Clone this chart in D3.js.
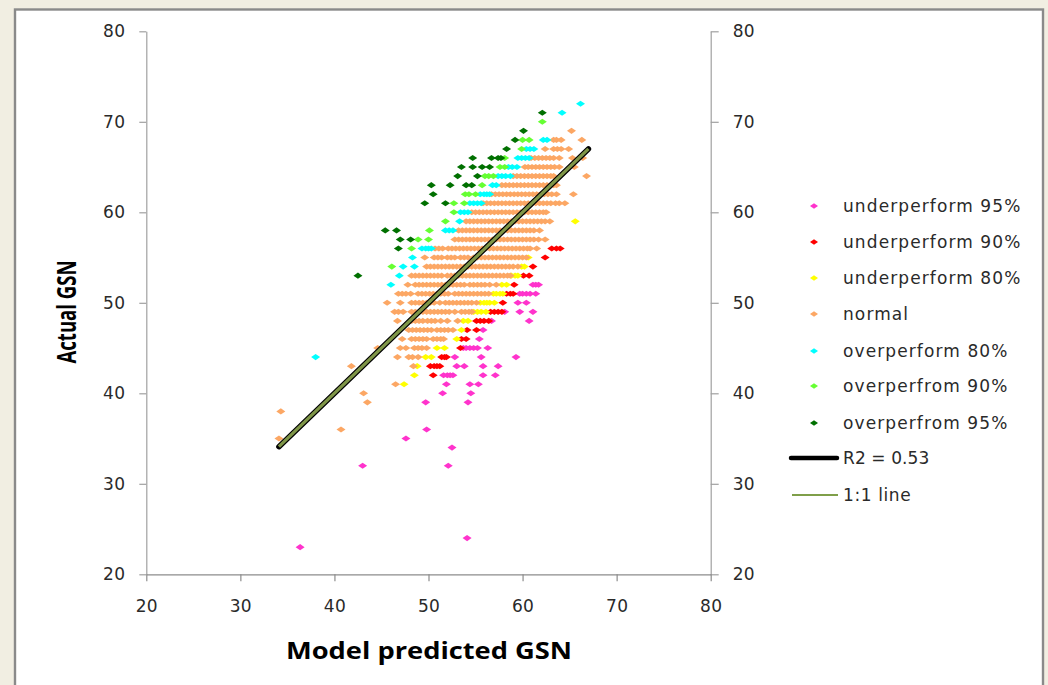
<!DOCTYPE html>
<html><head><meta charset="utf-8"><style>html,body{margin:0;padding:0;background:#f1eee2;overflow:hidden}svg{display:block}</style>
<script src="https://cdnjs.cloudflare.com/ajax/libs/d3/7.8.5/d3.min.js"></script></head><body><svg id="c" width="1048" height="685"></svg>
<script>
const xTicks=[20,30,40,50,60,70,80];
const yTicks=[20,30,40,50,60,70,80];
const legendLabels=["underperform 95%","underperform 90%","underperform 80%","normal","overperform 80%","overperfrom 90%","overperfrom 95%"];
const colors=["#ff33cc","#ff0000","#ffff00","#fca764","#00ffff","#66ff33","#007000"];
// each entry: [actual GSN, [model predicted GSN, ...]]
const under95=[[52,[61.1,61.4,61.7]],[51,[59.7,60,60.4,60.8,61.4]],[50,[59.5,60.4]],[49,[58.1,59.7,61.1]],[48,[56.7,60.7]],[47,[55.8]],[46,[55.4]],[45,[53.7,54,54.4,54.8,55.2,56.3]],[44,[52.8,55.6,59.3]],[43,[53,53.8,55.8,57.4]],[42,[51.6,52,52.3,52.6,55.8,57.1]],[41,[51.9,54.4,55.3]],[40,[51.5,54.5]],[39,[49.7,54.2]],[36,[49.8]],[35,[47.6]],[34,[52.5]],[32,[43,52.1]],[24,[54.1]],[23,[36.35]]];
const under90=[[56,[63.1,63.6,64]],[55,[62.4]],[54,[61.1]],[53,[60.1,60.7]],[52,[59.1]],[51,[58.3,58.7,59]],[50,[57.9]],[49,[56.6,57,57.4,57.8]],[48,[55.1,55.5,55.9,56.4]],[47,[54.1,55.1]],[46,[53.5,54]],[45,[53.4]],[44,[51.4,51.7,51.9]],[43,[50.2,50.6,50.9,51.2]],[42,[50.5]]];
const under80=[[59,[65.6]],[55,[60.6]],[54,[59.9,60.2]],[53,[58.8,59.2,59.5]],[52,[57.8,58.3]],[51,[56.9,57.2,57.6,57.9]],[50,[55.5,55.9,56.2,56.5,57]],[49,[54.8,55.2,55.6,56.1]],[48,[53.7,54.2]],[47,[53.5]],[46,[53]],[45,[50.9,51.7]],[44,[49.7,50.3]],[43,[48.8]],[42,[48.5]],[41,[47.4]]];
const normal=[[69,[65.2]],[68,[63.3,63.6,64.1,66.3]],[67,[62.4,63.3,63.7,64.1,64.9]],
[66,[60.9,61.3,61.7,62.1,62.5,62.9,63.3,63.9,65.3,66.4]],[65,[60.25,60.6,61,61.4,61.8,62.2,62.6,63,63.4,63.9,65.5]],
[64,[59,59.4,59.8,60.2,60.6,61,61.4,61.8,62.2,62.6,63,63.3,66.8]],
[63,[57.8,58.2,58.6,59,59.4,59.8,60.2,60.6,61,61.4,61.8,62.2,62.6,63,63.3,63.6]],
[62,[56.7,57.1,57.5,57.9,58.3,58.7,59.1,59.5,59.9,60.3,60.7,61.1,61.5,61.9,62.3,62.7,63.1,63.6,65.4]],
[61,[55.8,56.2,56.6,57,57.4,57.8,58.2,58.6,59,59.4,59.8,60.2,60.6,61,61.4,61.8,62.2,62.6,63,63.5,63.9,64.5]],
[60,[54.6,55,55.4,55.8,56.2,56.6,57,57.4,57.8,58.2,58.6,59,59.4,59.8,60.2,60.6,61,61.4,61.8,62.2,62.5]],
[59,[54,54.4,54.8,55.2,55.6,56,56.4,56.8,57.2,57.6,58,58.4,58.8,59.2,59.6,60,60.4,60.8,61.2,61.6,62,62.4,62.9]],
[58,[53.2,53.6,54,54.4,54.8,55.2,55.6,56,56.4,56.8,57.2,57.6,58,58.4,58.8,59.2,59.6,60,60.4,60.8,61.2,61.8]],
[57,[52.8,53.2,53.6,54,54.4,54.8,55.2,55.6,56,56.4,56.8,57.2,57.6,58,58.4,58.8,59.2,59.6,60,60.4,60.8,61.2,61.7,62.4]],
[56,[50.7,51.1,51.5,52.1,52.5,52.9,53.3,53.7,54.1,54.5,54.9,55.3,55.7,56.1,56.5,56.9,57.3,57.7,58.1,58.5,58.9,59.3,59.7,60.1,60.5,60.8,61.5]],
[55,[49.6,50.6,51,51.4,52,52.4,52.8,53.4,53.8,54.2,54.8,55.2,55.6,56,56.4,56.8,57.2,57.6,58,58.4,58.8,59.2,59.6,60,60.4]],
[54,[49.8,50.2,50.6,51,51.4,51.8,52.2,52.6,53,53.4,53.8,54.2,54.6,55,55.4,55.8,56.2,56.6,57,57.4,57.8,58.2,58.6,59,59.5]],
[53,[48.2,48.6,49,49.4,49.8,50.2,50.6,51,51.4,52,52.4,52.8,53.2,53.6,54,54.4,54.8,55.2,55.6,56,56.4,56.8,57.2,57.6,58,58.4,58.7]],
[52,[47.8,48.6,49,49.4,49.8,50.2,50.6,51,51.4,51.8,52.2,52.6,53,53.4,53.8,54.4,54.8,55.2,55.6,56,56.5,57.2]],
[51,[46.8,47.2,47.6,48.1,48.9,49.3,49.7,50.1,50.5,50.9,51.3,51.7,52.1,52.8,53.2,53.6,54,54.4,54.8,55.2,55.6,56,56.4]],
[50,[45.6,47,48.2,48.6,49,49.4,49.8,50.2,50.6,51.2,51.8,52.2,52.6,53,53.4,53.8,54.2,54.6,55.1]],
[49,[46.4,46.8,47.3,48.2,48.6,49,49.4,49.8,50.2,50.6,51,51.4,51.8,52.2,52.8,53.5,53.9,54.3,54.6]],
[48,[46.7,48.2,48.6,49,49.4,49.9,50.3,50.7,51.3,52,53.1]],
[47,[47.9,48.3,48.7,49.1,49.5,49.9,50.3,50.9,51.3,51.7,52.1,52.6]],
[46,[47.2,48.2,48.6,49,49.4,49.8,50.5,50.9,51.3,51.6]],[45,[44.6,47,47.6,48.5,48.9,49.3,49.8]],[44,[46.7,47.9,48.3,48.9]],[43,[41.8,48.4]],[41,[46.5]],[40,[43.1]],[39,[43.5]],[38,[34.3]],[36,[40.7]],[35,[34.1]]];
const over80=[[72,[66.16]],[71,[64.2]],[68,[62.2,62.6]],[67,[60.4,60.8,61.2]],[66,[59.5,59.9,60.3,60.7]],[65,[58.5,58.9,59.4]],[64,[57.4,57.8,58.2,58.7]],[63,[56.8,57.2]],[62,[55.5,55.9,56.2,56.5]],[61,[54.4,54.8,55.2,55.6]],[60,[53.4,53.8,54.2]],[59,[53.3]],[58,[51.8,52.2,52.6]],[56,[49.3,49.7,50,50.3]],[55,[48.3]],[54,[47.3,48.5]],[53,[46.9]],[52,[46]],[44,[38]]];
const over90=[[70,[62.1]],[68,[60,60.7]],[67,[59.9]],[66,[58.1]],[65,[57.6,58.1]],[64,[56,56.4,56.9]],[63,[55.7]],[62,[53.9,54.3,55]],[61,[52.7,53.8]],[60,[52.7]],[59,[51.8]],[58,[50.1]],[57,[48.9,50]],[56,[48.2]],[54,[46.1]]];
const over95=[[71,[62.1]],[69,[60.1]],[68,[59.2]],[67,[58.3]],[66,[54.7,56.7,57.4,57.7]],[65,[53.5,54.7,55.7,56.5]],[64,[53.1,55.2]],[63,[50.3,52.3,54,54.6]],[62,[50.5]],[61,[49.6,51.8]],[58,[45.4,46.6]],[57,[47,48.1]],[56,[46.8]],[53,[42.5]]];
const seriesList=[under95,under90,under80,normal,over80,over90,over95];
const fitLine=[[34.1,34.1],[67,67]];
const oneLine=[[34.1,34.1],[67,67]];

const svg=d3.select("#c");
const x=d3.scaleLinear().domain([20,80]).range([146.3,710.7]);
const y=d3.scaleLinear().domain([20,80]).range([574.3,31.3]);
svg.append("rect").attr("x",15).attr("y",9.5).attr("width",1028).attr("height",700).attr("fill","#fff").attr("stroke","#8a8a8a").attr("stroke-width",2.4);

const fnt='"DejaVu Sans",sans-serif';
function styleAxis(g,col){g.select(".domain").attr("stroke",col).attr("stroke-width",1.2);g.selectAll(".tick line").attr("stroke",col).attr("stroke-width",1.2);g.selectAll("text").attr("fill","#2a2a2a").style("font-family",fnt).style("font-size","17px").style("letter-spacing","0.3px");}
const fmt=d3.format("d");
svg.append("g").attr("transform","translate(146.3,0)").call(d3.axisLeft(y).tickValues(yTicks).tickFormat(fmt).tickSize(7).tickSizeOuter(0).tickPadding(14)).call(g=>styleAxis(g,"#a0a0a0"));
svg.append("g").attr("transform","translate(710.7,0)").call(d3.axisRight(y).tickValues(yTicks).tickFormat(fmt).tickSize(8).tickSizeOuter(0).tickPadding(14)).call(g=>styleAxis(g,"#a0a0a0"));
svg.append("g").attr("transform","translate(0,574.3)").call(d3.axisBottom(x).tickValues(xTicks).tickFormat(fmt).tickSize(7).tickSizeOuter(0).tickPadding(19)).call(g=>styleAxis(g,"#8c8c8c"));

const diamondType={draw(ctx,s){const a=s;ctx.moveTo(-a,0);ctx.lineTo(0,-a*0.68);ctx.lineTo(a,0);ctx.lineTo(0,a*0.68);ctx.closePath();}};
const marker=d3.symbol().type(diamondType).size(4.5);
const legendMarker=d3.symbol().type(diamondType).size(4);
seriesList.forEach((rows,i)=>{
  const pts=rows.flatMap(r=>r[1].map(v=>[v,r[0]]));
  svg.append("g").selectAll("path").data(pts).join("path").attr("d",marker).attr("fill",colors[i]).attr("transform",d=>`translate(${x(d[0])},${y(d[1])})`);
});
const line=d3.line().x(d=>x(d[0])).y(d=>y(d[1]));
svg.append("path").attr("d",line(fitLine)).attr("fill","none").attr("stroke","#000").attr("stroke-width",5.5).attr("stroke-linecap","round");
svg.append("path").attr("d",line(oneLine)).attr("fill","none").attr("stroke","#7f9648").attr("stroke-width",3.2);

const legendY=[206,242,278,314,351,386,423];
legendLabels.forEach((t,i)=>{
  svg.append("path").attr("d",legendMarker).attr("fill",colors[i]).attr("transform",`translate(814,${legendY[i]})`);
  svg.append("text").attr("x",843).attr("y",legendY[i]+6).attr("fill","#2a2a2a").style("font-family",fnt).style("font-size","17px").style("letter-spacing","1.1px").text(t);
});
svg.append("line").attr("x1",791).attr("x2",837).attr("y1",458).attr("y2",458).attr("stroke","#000").attr("stroke-width",4.5).attr("stroke-linecap","round");
svg.append("text").attr("x",843).attr("y",464).attr("fill","#2a2a2a").style("font-family",fnt).style("font-size","17px").style("letter-spacing","0.1px").text("R2 = 0.53");
svg.append("line").attr("x1",792).attr("x2",838).attr("y1",495).attr("y2",495).attr("stroke","#7f9f4a").attr("stroke-width",1.8);
svg.append("text").attr("x",843).attr("y",501).attr("fill","#2a2a2a").style("font-family",fnt).style("font-size","17px").style("letter-spacing","0.6px").text("1:1 line");

svg.append("text").attr("x",429).attr("y",659).attr("text-anchor","middle").attr("fill","#000").style("font-family",'"Open Sans",sans-serif').style("font-weight",700).style("font-size","24px").attr("textLength",286).attr("lengthAdjust","spacingAndGlyphs").text("Model predicted GSN");
svg.append("text").attr("transform","translate(75.5,312) rotate(-90)").attr("text-anchor","middle").attr("fill","#000").style("font-family",'"Open Sans",sans-serif').style("font-weight",700).style("font-size","27px").attr("textLength",103).attr("lengthAdjust","spacingAndGlyphs").text("Actual GSN");
</script></body></html>
